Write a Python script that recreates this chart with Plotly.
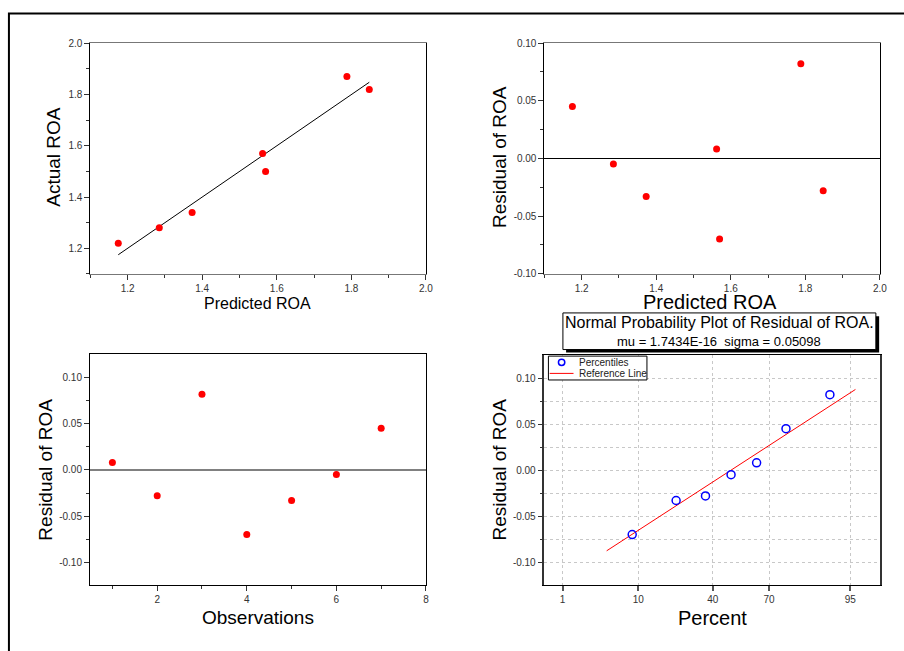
import plotly.graph_objects as go
from statistics import NormalDist

# ---------------- data ----------------
observations = [1, 2, 3, 4, 5, 6, 7]
predicted_roa = [1.562, 1.848, 1.788, 1.570, 1.373, 1.285, 1.175]
actual_roa = [1.57, 1.82, 1.87, 1.50, 1.34, 1.28, 1.22]
residual_roa = [0.008, -0.028, 0.082, -0.070, -0.033, -0.005, 0.045]

fit_x = [1.175, 1.848]
fit_y = [1.175, 1.848]

percentiles = [8.62, 22.41, 36.21, 50.0, 63.79, 77.59, 91.38]
sorted_residuals = [-0.070, -0.033, -0.028, -0.005, 0.008, 0.045, 0.082]
ref_pct = [4.3, 95.7]
ref_val = [-0.0877, 0.0877]

pct_ticks = [1, 10, 40, 70, 95]
pct_range = [0.5, 98]

resid_ticks = [-0.10, -0.05, 0.0, 0.05, 0.10]
resid_tick_labels = ["-0.10", "-0.05", "0.00", "0.05", "0.10"]
resid_minor_ticks = [-0.075, -0.025, 0.025, 0.075]

title_line1 = "Normal Probability Plot of Residual of ROA."
title_line2 = "mu = 1.7434E-16  sigma = 0.05098"

# ---------------- helpers ----------------
W, H = 904, 651
FONT = "Liberation Sans, Arial, sans-serif"
nd = NormalDist()


def prob(p):
    return nd.inv_cdf(p / 100.0)


def px(x):
    return x / W


def py(y):
    return 1 - y / H


def dom_x(a, b):
    return [px(a), px(b)]


def dom_y(top, bottom):
    return [py(bottom), py(top)]


fig = go.Figure()

red = "#ff0000"

# Panel 1
fig.add_trace(go.Scatter(x=fit_x, y=fit_y, mode="lines",
                         line=dict(color="black", width=1),
                         xaxis="x", yaxis="y", showlegend=False))
fig.add_trace(go.Scatter(x=predicted_roa, y=actual_roa, mode="markers",
                         marker=dict(color=red, size=7),
                         xaxis="x", yaxis="y", showlegend=False))
# Panel 2
fig.add_trace(go.Scatter(x=predicted_roa, y=residual_roa, mode="markers",
                         marker=dict(color=red, size=7),
                         xaxis="x2", yaxis="y2", showlegend=False))
# Panel 3
fig.add_trace(go.Scatter(x=observations, y=residual_roa, mode="markers",
                         marker=dict(color=red, size=7),
                         xaxis="x3", yaxis="y3", showlegend=False))
# Panel 4
fig.add_trace(go.Scatter(x=[prob(p) for p in ref_pct], y=ref_val, mode="lines",
                         line=dict(color=red, width=1),
                         xaxis="x4", yaxis="y4", showlegend=False))
fig.add_trace(go.Scatter(x=[prob(p) for p in percentiles], y=sorted_residuals,
                         mode="markers",
                         marker=dict(color="#0000ff", size=8, symbol="circle-open",
                                     line=dict(color="#0000ff", width=1.5)),
                         xaxis="x4", yaxis="y4", showlegend=False))

tickfont = dict(family=FONT, size=10, color="#333333")


def axis(domain, rng, anchor, linecolor, dtick=None, minor_dtick=None, **kw):
    d = dict(domain=domain, range=rng, anchor=anchor, showline=True, mirror=True,
             linecolor=linecolor, linewidth=1, ticks="outside", ticklen=5,
             tickcolor="#333333", tickwidth=1, tickfont=tickfont,
             showgrid=False, zeroline=False)
    if dtick is not None:
        d["dtick"] = dtick
        d["tick0"] = 0
    if minor_dtick is not None:
        d["minor"] = dict(ticks="outside", ticklen=3, tickcolor="#333333",
                          dtick=minor_dtick, tick0=0)
    d.update(kw)
    return d


def resid_axis(domain, anchor, rng, linecolor, **kw):
    d = axis(domain, rng, anchor, linecolor,
             tickmode="array", tickvals=resid_ticks, ticktext=resid_tick_labels)
    d["minor"] = dict(ticks="outside", ticklen=3, tickcolor="#333333",
                      tickmode="array", tickvals=resid_minor_ticks)
    d.update(kw)
    return d


layout = dict(
    width=W, height=H, margin=dict(l=0, r=0, t=0, b=0),
    paper_bgcolor="white", plot_bgcolor="white",
    font=dict(family=FONT, color="black"),
    showlegend=False,
)

layout["xaxis"] = axis(dom_x(91, 429.3), [1.1, 2.0], "y", "#777777", 0.2, 0.1,
                       tickformat=".1f")
layout["yaxis"] = axis(dom_y(38, 273), [1.1, 2.0], "x", "black", 0.2, 0.1,
                       tickformat=".1f")
layout["xaxis2"] = axis(dom_x(548.7, 886.7), [1.1, 2.0], "y2", "#777777", 0.2, 0.1,
                        tickformat=".1f")
layout["yaxis2"] = resid_axis(dom_y(37.7, 272.7), "x2", [-0.1, 0.1], "black",
                              zeroline=True, zerolinecolor="black", zerolinewidth=1)
layout["xaxis3"] = axis(dom_x(90.7, 429.3), [0.5, 8], "y3", "black", 2, 1)
layout["yaxis3"] = resid_axis(dom_y(355, 590.3), "x3", [-0.125, 0.125], "black",
                              zeroline=True, zerolinecolor="#808080", zerolinewidth=2)
layout["xaxis4"] = axis(dom_x(548.7, 886.7), [prob(pct_range[0]), prob(pct_range[1])],
                        "y4", "black",
                        tickmode="array", tickvals=[prob(p) for p in pct_ticks],
                        ticktext=[str(p) for p in pct_ticks],
                        showgrid=True, gridcolor="#c8c8c8", griddash="dot", gridwidth=1,
                        tickcolor="#555555", tickwidth=2)
y4 = resid_axis(dom_y(355.7, 590), "x4", [-0.125, 0.125], "#333333",
                showgrid=True, gridcolor="#c8c8c8", griddash="dot",
                gridwidth=1, linewidth=1.5)
y4["minor"].update(showgrid=True, gridcolor="#c8c8c8", griddash="dot", gridwidth=1)
layout["yaxis4"] = y4

fig.update_layout(**layout)

# ---------------- axis titles ----------------
def title(text, x, y, size, angle=0):
    fig.add_annotation(text=text, x=px(x), y=py(y), xref="paper", yref="paper",
                       showarrow=False, xanchor="center", yanchor="middle",
                       textangle=angle, font=dict(family=FONT, size=size, color="black"))


title("Predicted ROA", 260, 303, 16)
title("Actual ROA", 54, 154, 19, -90)
title("Predicted ROA", 716, 302, 20)
title("Residual of ROA", 502.7, 154, 19, -90)
title("Observations", 260, 623, 19)
title("Residual of ROA", 45.7, 472, 19, -90)
title("Percent", 717.8, 623.3, 20)
title("Residual of ROA", 503.3, 471.8, 19, -90)

# ---------------- panel-4 title box ----------------
shapes = []
shapes.append(dict(type="rect", xref="paper", yref="paper",
                   x0=px(570.5), x1=px(886), y0=py(353), y1=py(316),
                   fillcolor="black", line=dict(width=0), layer="above"))
shapes.append(dict(type="rect", xref="paper", yref="paper",
                   x0=px(567.3), x1=px(882.7), y0=py(350), y1=py(312.7),
                   fillcolor="white", line=dict(color="black", width=1), layer="above"))
# legend box
shapes.append(dict(type="rect", xref="paper", yref="paper",
                   x0=px(552.7), x1=px(652), y0=py(381), y1=py(356.7),
                   fillcolor="white", line=dict(color="black", width=1), layer="above"))
shapes.append(dict(type="circle", xref="paper", yref="paper",
                   x0=px(562.8), x1=px(569.2), y0=py(366.2), y1=py(359.8),
                   line=dict(color="#0000ff", width=1.5), layer="above"))
shapes.append(dict(type="line", xref="paper", yref="paper",
                   x0=px(554), x1=px(578), y0=py(374.3), y1=py(374.3),
                   line=dict(color=red, width=1), layer="above"))
# outer frame
shapes.append(dict(type="rect", xref="paper", yref="paper",
                   x0=px(9), x1=px(920), y0=py(670), y1=py(7.7),
                   line=dict(color="black", width=2), layer="above"))
fig.update_layout(shapes=shapes)

fig.add_annotation(text=title_line1, x=px(725), y=py(322.3), xref="paper", yref="paper",
                   showarrow=False, xanchor="center", yanchor="middle",
                   font=dict(family=FONT, size=16, color="black"))
fig.add_annotation(text=title_line2, x=px(725), y=py(342), xref="paper", yref="paper",
                   showarrow=False, xanchor="center", yanchor="middle",
                   font=dict(family=FONT, size=13, color="black"))
fig.add_annotation(text="Percentiles", x=px(581), y=py(363), xref="paper", yref="paper",
                   showarrow=False, xanchor="left", yanchor="middle",
                   font=dict(family=FONT, size=10, color="#222222"))
fig.add_annotation(text="Reference Line", x=px(581), y=py(374.3), xref="paper", yref="paper",
                   showarrow=False, xanchor="left", yanchor="middle",
                   font=dict(family=FONT, size=10, color="#222222"))

fig.write_html(
    "out.html",
    config={"displayModeBar": False},
    post_script="document.body.style.margin='0';document.body.style.padding='0';"
                "document.documentElement.style.overflow='hidden';"
                "var gd=document.getElementById('{plot_id}');"
                "gd.style.position='fixed';gd.style.top='0px';gd.style.left='0px';",
)
